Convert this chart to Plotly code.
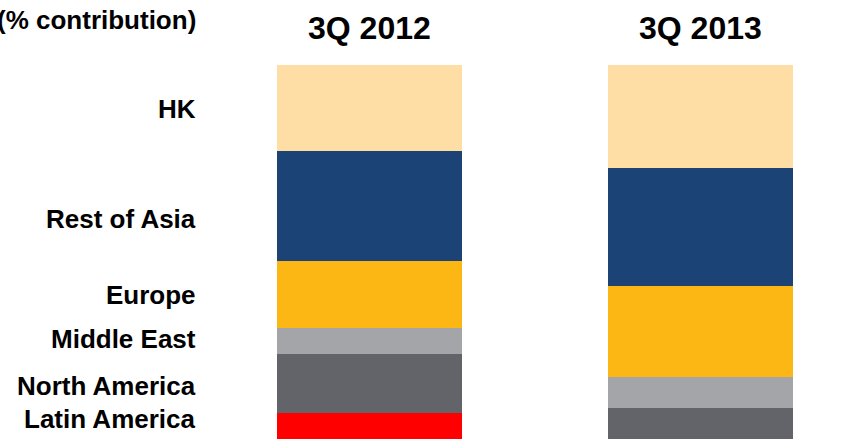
import plotly.graph_objects as go

# Share of contribution by region (%), listed bottom to top of each stack
periods = ["3Q 2012", "3Q 2013"]
regions = ["Latin America", "North America", "Middle East", "Europe", "Rest of Asia", "HK"]
share_2012 = [12.9, 14.8, 6.5, 16.7, 27.6, 21.5]
share_2013 = [3.7, 10.5, 7.7, 22.8, 29.5, 25.8]
colors = ["#FF0000", "#636469", "#A4A5A9", "#FDB714", "#1B4375", "#FEDEA5"]

W, H = 860, 439
FONT = "Liberation Sans, Arial, sans-serif"

fig = go.Figure()
for i, region in enumerate(regions):
    fig.add_trace(go.Bar(
        x=[0, 1],
        y=[share_2012[i], share_2013[i]],
        name=region,
        marker=dict(color=colors[i], line=dict(width=0)),
        width=0.559,
        hoverinfo="name+y",
    ))

# Period headings above each stack
for xi, label in enumerate(periods):
    fig.add_annotation(
        x=xi, xref="x", y=1 - 28 / H, yref="paper",
        text=label, showarrow=False, xanchor="center", yanchor="middle",
        font=dict(family=FONT, size=32, color="#000000", weight="bold"),
    )

# Region labels on the left (pixel rows of their text centres)
label_rows = [419, 386, 338.5, 295, 219, 109]
for region, py in zip(regions, label_rows):
    fig.add_annotation(
        x=198 / W, xref="paper", y=1 - py / H, yref="paper",
        text=region, showarrow=False, xanchor="right", yanchor="middle",
        font=dict(family=FONT, size=26, color="#000000", weight="bold"),
    )

fig.add_annotation(
    x=198 / W, xref="paper", y=1 - 20 / H, yref="paper",
    text="(% contribution)", showarrow=False, xanchor="right", yanchor="middle",
    font=dict(family=FONT, size=26, color="#000000", weight="bold"),
)

fig.update_layout(
    width=W, height=H,
    barmode="stack",
    showlegend=False,
    margin=dict(l=0, r=0, t=0, b=0),
    paper_bgcolor="#FFFFFF",
    plot_bgcolor="#FFFFFF",
    xaxis=dict(range=[-1.1163, 1.4819], visible=False, fixedrange=True),
    yaxis=dict(range=[6.375, 116.125], visible=False, fixedrange=True),
)

fig.write_html("out.html")
